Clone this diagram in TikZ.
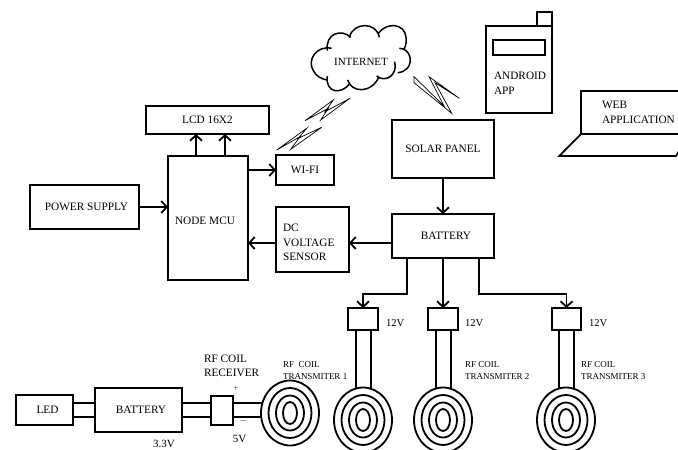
\documentclass[tikz,border=0pt]{standalone}
\usepackage{fontspec}
\setmainfont{Liberation Serif}
\usetikzlibrary{arrows.meta,shapes.geometric}
\tikzset{
  box/.style={draw,line width=1.8pt,fill=white,inner sep=0pt,outer sep=0pt,align=center,font=\fontsize{11.3}{14}\selectfont},
  thinbolt/.style={line width=0.7pt,line join=miter},
  link/.style={line width=1.8pt},
  arrowlink/.style={line width=1.8pt,-{Straight Barb[length=5.5pt,width=12pt,line width=1.8pt]}},
  txt/.style={inner sep=0pt,outer sep=0pt,anchor=west,align=left,font=\fontsize{11.3}{14.5}\selectfont},
  small/.style={inner sep=0pt,outer sep=0pt,anchor=west,align=left,font=\fontsize{9}{12}\selectfont},
  ring/.style={draw,ellipse,line width=1.8pt,inner sep=0pt,outer sep=0pt,fill=white},
}
\newcommand{\coilshape}[3]{%
  \node[ring,minimum width=58pt,minimum height=65pt] (#1) at (#2,#3) {};
  \node[ring,minimum width=43pt,minimum height=50pt] (#1b) at (#2,#3) {};
  \node[ring,minimum width=28pt,minimum height=35pt] (#1c) at (#2,#3) {};
  \node[ring,minimum width=14pt,minimum height=22pt] (#1d) at (#2,#3) {};
}
\begin{document}
\begin{tikzpicture}[x=1pt,y=-1pt]
\useasboundingbox (0,0) rectangle (678,450);
\clip (0,0) rectangle (678,450);
% upper boxes
\node[box,minimum width=123pt,minimum height=28pt] (lcd) at (207.5,120) {LCD 16X2};
\node[box,minimum width=80pt,minimum height=124pt,label={[txt,anchor=center,xshift=-3pt,yshift=-3pt]center:NODE MCU}] (mcu) at (208,218) {};
\node[box,minimum width=58pt,minimum height=30pt] (wifi) at (305,170) {WI-FI};
\node[box,minimum width=109pt,minimum height=44pt,label={[txt,anchor=center,xshift=2pt]center:POWER SUPPLY}] (pow) at (84.5,207) {};
\node[box,minimum width=73pt,minimum height=65pt] (dc) at (312.5,239.5) {};
\node[txt] (dct) at (283,242.5) {DC\\VOLTAGE\\SENSOR};
\node[box,minimum width=102pt,minimum height=58pt] (sol) at (443,149) {SOLAR PANEL};
\node[box,minimum width=102pt,minimum height=44pt,label={[txt,anchor=center,xshift=3pt]center:BATTERY}] (bat) at (443,236) {};
% receivers on transmitter branches
\node[box,minimum width=30pt,minimum height=22pt] (rx1) at (363,319) {};
\node[box,minimum width=30pt,minimum height=22pt] (rx2) at (443,319) {};
\node[box,minimum width=29pt,minimum height=22pt] (rx3) at (566.5,319) {};
% arrows
\coordinate (u1) at (196,156);
\coordinate (u2) at (225,156);
\draw[arrowlink] (mcu.north -| u1) -- (lcd.south -| u1);
\draw[arrowlink] (mcu.north -| u2) -- (lcd.south -| u2);
\draw[arrowlink] (wifi.west -| mcu.east) -- (wifi.west);
\draw[arrowlink] (pow.east) -- (pow.east -| mcu.west);
\coordinate (dcy) at (300,243);
\draw[arrowlink] (dc.west |- dcy) -- (mcu.east |- dcy);
\draw[arrowlink] (bat.west |- dcy) -- (dc.east |- dcy);
\draw[arrowlink] (sol.south) -- (bat.north);
\coordinate (j1) at (407,294);
\coordinate (j3) at (479,294);
\draw[arrowlink] (bat.south -| j1) -- (j1) -| (rx1.north);
\draw[arrowlink] (bat.south) -- (rx2.north);
\draw[arrowlink] (bat.south -| j3) -- (j3) -| (rx3.north);
% feed lines to coils
\coordinate (a1) at (356,400);\coordinate (b1) at (371,400);
\coordinate (a2) at (436,400);\coordinate (b2) at (451,400);
\coordinate (a3) at (559,400);\coordinate (b3) at (574,400);
\draw[link] (rx1.south -| a1) -- (a1);
\draw[link] (rx1.south -| b1) -- (b1);
\draw[link] (rx2.south -| a2) -- (a2);
\draw[link] (rx2.south -| b2) -- (b2);
\draw[link] (rx3.south -| a3) -- (a3);
\draw[link] (rx3.south -| b3) -- (b3);
% bottom chain
\node[box,minimum width=57pt,minimum height=30pt,label={[txt,anchor=center,xshift=3pt]center:LED}] (led) at (44.5,410) {};
\node[box,minimum width=87pt,minimum height=44pt,label={[txt,anchor=center,xshift=2.5pt]center:BATTERY}] (bat2) at (138.5,410) {};
\node[box,minimum width=22pt,minimum height=29pt] (rcv) at (222,410.5) {};
\coordinate (p1) at (0,403);
\coordinate (p2) at (0,417);
\coordinate (q1) at (270,403);
\coordinate (q2) at (270,417);
\draw[link] (led.east |- p1) -- (bat2.west |- p1);
\draw[link] (led.east |- p2) -- (bat2.west |- p2);
\draw[link] (bat2.east |- p1) -- (rcv.west |- p1);
\draw[link] (bat2.east |- p2) -- (rcv.west |- p2);
\draw[link] (rcv.east |- p1) -- (q1);
\draw[link] (rcv.east |- p2) -- (q2);
% coils
\coilshape{c0}{290}{413}
\coilshape{c1}{363}{420}
\coilshape{c2}{443}{420}
\coilshape{c3}{566}{420}
% labels
\node[txt] (t12a) at (386,323) {\fontsize{10.6}{12}\selectfont 12V};
\node[txt] (t12b) at (465,323) {\fontsize{10.6}{12}\selectfont 12V};
\node[txt] (t12c) at (589,323) {\fontsize{10.6}{12}\selectfont 12V};
\node[small] (tr1) at (283,371) {RF\ \ COIL\\TRANSMITER 1};
\node[small] (tr2) at (465,371) {RF COIL\\TRANSMITER 2};
\node[small] (tr3) at (581,371) {RF COIL\\TRANSMITER 3};
\node[txt] (rc) at (204,366) {RF COIL\\RECEIVER};
\node[inner sep=0pt,font=\fontsize{10}{10}\selectfont,text=black!70] (plus) at (236,389) {+};
\node[inner sep=0pt,font=\fontsize{11}{10}\selectfont,text=black!70] (minus) at (243,422) {--};
\node[inner sep=0pt,font=\fontsize{11}{14}\selectfont] (v5) at (239.5,439) {5V};
\node[inner sep=0pt,font=\fontsize{11}{14}\selectfont] (v33) at (164,443.5) {3.3V};
% cloud
\begin{scope}[shift={(250,0)},x=0.3333pt,y=-0.3333pt,line width=1.5pt]
\draw (245,145) .. controls (200,135) and (170,180) .. (190,212) .. controls (198,228) and (215,238) .. (232,240);
\draw (232,152) .. controls (225,100) and (275,85) .. (302,112);
\draw (298,112) .. controls (310,65) and (380,65) .. (388,112);
\draw (385,100) .. controls (410,65) and (465,70) .. (468,112) .. controls (470,125) and (468,135) .. (462,148);
\draw (448,145) .. controls (480,145) and (490,185) .. (472,205) .. controls (465,213) and (455,217) .. (443,218);
\draw (434,185) .. controls (445,225) and (405,250) .. (380,228);
\draw (386,232) .. controls (365,280) and (305,280) .. (293,240);
\draw (300,250) .. controls (275,285) and (225,280) .. (232,228);
\end{scope}
\node[inner sep=0pt,font=\fontsize{11}{14}\selectfont] (inet) at (361,62) {INTERNET};
% lightning bolts
\draw[thinbolt] (305,120.7) -- (333.3,100) -- (325,111.7) -- (350,98.3) -- (320.7,120) -- (328.3,108.3) -- cycle;
\draw[thinbolt] (276.7,150) -- (306.7,128.3) -- (298.3,138.3) -- (321.7,127.3) -- (290.7,149.3) -- (300,136.7) -- cycle;
\draw[thinbolt] (414,76.7) -- (444,106) -- (429,76.7) -- (459.3,98.3) -- (435,82.7) -- (451.7,113.3) -- (414,82.7) -- cycle;
% phone
\node[draw,line width=1.8pt,minimum width=66pt,minimum height=87pt,inner sep=0pt,outer sep=0pt] (phone) at (519,69.5) {};
\node[draw,line width=1.8pt,minimum width=15pt,minimum height=14pt,inner sep=0pt,outer sep=0pt] (ant) at (544.5,19) {};
\node[draw,line width=1.8pt,minimum width=52pt,minimum height=15pt,inner sep=0pt,outer sep=0pt] (scr) at (519,47.5) {};
\node[txt] (aa) at (494,83.5) {ANDROID\\APP};
% laptop
\draw[line width=1.8pt] (679,91) -- (581,91) -- (581,134) -- (679,134);
\draw[line width=1.8pt] (581,134) -- (559.3,156) -- (676,156) -- (679,151);
\node[txt] (wa) at (602,112.5) {WEB\\APPLICATION};
\end{tikzpicture}
\end{document}
